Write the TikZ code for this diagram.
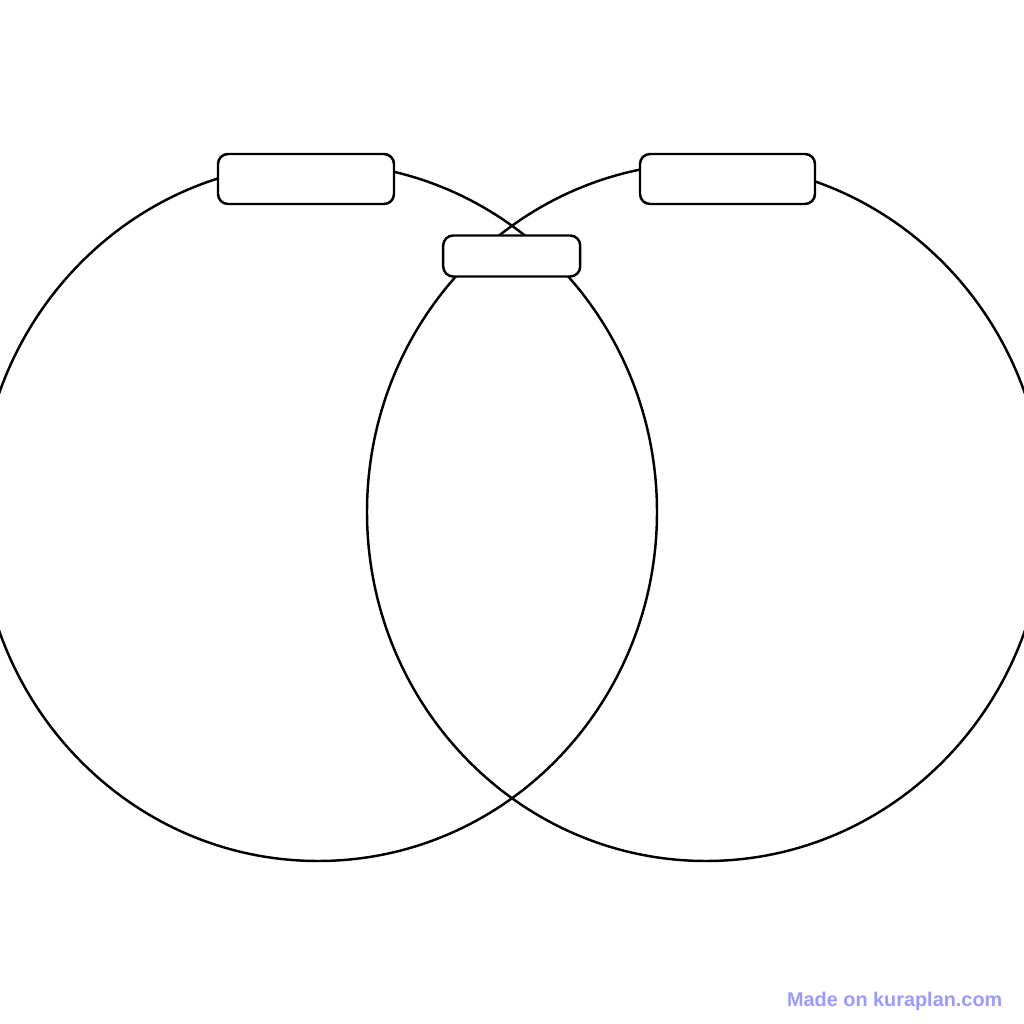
\documentclass[tikz,border=0pt]{standalone}
\usepackage{fontspec}
\setsansfont{Liberation Sans}
\usepackage{tikz}
\usetikzlibrary{shapes.geometric}
\pgfdeclarelayer{bg}
\pgfsetlayers{bg,main}
\definecolor{creditblue}{HTML}{9B9BFF}
\tikzset{
    setring/.style={ellipse, draw, line width=0.7pt, inner sep=0mm, minimum width=6.78cm, minimum height=6.98cm},
    tagbox/.style={rectangle, draw, fill=white, line width=0.7pt, rounded corners=1mm, inner sep=0mm}
}
\tikzset{credit/.style={text=creditblue, font=\sffamily\bfseries\fontsize{5.65pt}{7pt}\selectfont, inner sep=0mm}}

\begin{document}
\begin{tikzpicture}
    \useasboundingbox (0cm, 0cm) rectangle (10.24cm, 10.24cm);
    \clip (0cm, 0cm) rectangle (10.24cm, 10.24cm);

    \begin{pgfonlayer}{bg}
        \fill[white] (0cm, 0cm) rectangle (10.24cm, 10.24cm);
        \node (setL) [setring] at (3.18cm, 5.12cm) {};
        \node (setR) [setring] at (7.06cm, 5.12cm) {};
    \end{pgfonlayer}

    \node (tagL) [tagbox, minimum width=1.76cm, minimum height=0.50cm] at (3.06cm, 8.45cm) {};
    \node (tagR) [tagbox, minimum width=1.75cm, minimum height=0.50cm] at (7.275cm, 8.45cm) {};
    \node (tagM) [tagbox, minimum width=1.37cm, minimum height=0.41cm] at (5.117cm, 7.68cm) {};

    \node (madeon) [credit, anchor=base east] at (10.03cm, 0.18cm) {Made on kuraplan.com};
\end{tikzpicture}
\end{document}
